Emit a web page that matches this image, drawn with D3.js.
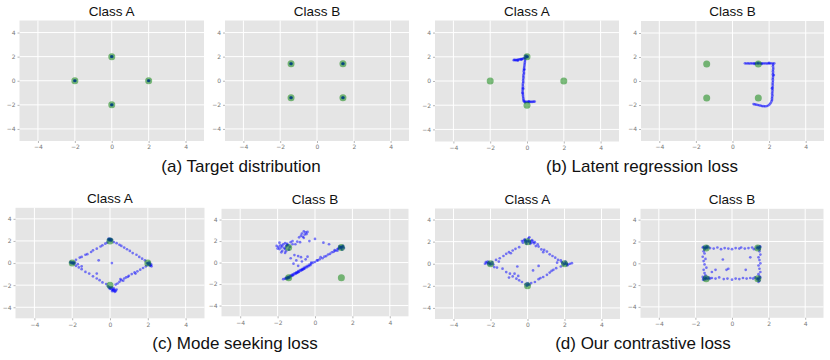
<!DOCTYPE html>
<html>
<head>
<meta charset="utf-8">
<script src="https://cdn.jsdelivr.net/npm/d3@7"></script>
<style>
  body { margin: 0; background: #fff; }
  svg { display: block; font-family: "Liberation Sans", Arial, sans-serif; }
  .tick text { fill: #777; font-size: 6px; }
</style>
</head>
<body>
<svg id="chart" width="830" height="360"></svg>
<script>
// target modes (green)
let modesA = [[0, 2], [2, 0], [0, -2], [-2, 0]];
let modesB = [[1.41, 1.41], [-1.41, 1.41], [-1.41, -1.41], [1.41, -1.41]];
let ticks = [-4, -2, 0, 2, 4];
let titles = ['Class A', 'Class B', 'Class A', 'Class B', 'Class A', 'Class B', 'Class A', 'Class B'];
let captions = ['(a) Target distribution', '(b) Latent regression loss', '(c) Mode seeking loss', '(d) Our contrastive loss'];

// generated samples (blue)
let targetA = [[0, 2], [0.03, 2.02], [-0.03, 1.98], [0.02, 1.97], [-0.02, 2.03],
  [2, 0], [2.03, 0.02], [1.97, -0.02], [2.02, -0.03], [1.98, 0.03],
  [0, -2], [0.03, -1.98], [-0.03, -2.02], [0.02, -2.03], [-0.02, -1.97],
  [-2, 0], [-1.97, 0.02], [-2.03, -0.02], [-2.02, 0.03], [-1.98, -0.03]];
let targetB = [[1.41, 1.41], [1.44, 1.43], [1.38, 1.39], [1.43, 1.38], [1.39, 1.44],
  [-1.41, 1.41], [-1.38, 1.43], [-1.44, 1.39], [-1.39, 1.38], [-1.43, 1.44],
  [-1.41, -1.41], [-1.38, -1.39], [-1.44, -1.43], [-1.43, -1.38], [-1.39, -1.44],
  [1.41, -1.41], [1.44, -1.39], [1.38, -1.43], [1.39, -1.38], [1.43, -1.44]];
let latentA = [[-0.72, 1.72], [-0.68, 1.74], [-0.62, 1.73], [-0.58, 1.72], [-0.52, 1.75], [-0.46, 1.77],
  [-0.4, 1.78], [-0.34, 1.8], [-0.28, 1.82], [-0.22, 1.85], [-0.16, 1.88], [-0.1, 1.92], [-0.05, 1.96],
  [0, 2], [0.03, 2.04], [-0.04, 2.1], [-0.1, 2.06], [0.04, 1.98], [-0.02, 2.0], [-0.5, 1.68], [-0.3, 1.76],
  [-0.1, 1.78], [-0.11, 1.65], [-0.12, 1.52], [-0.13, 1.4], [-0.14, 1.28], [-0.15, 1.15], [-0.16, 1.02],
  [-0.17, 0.9], [-0.18, 0.78], [-0.16, 0.66], [-0.18, 0.55], [-0.2, 0.42], [-0.19, 0.3], [-0.2, 0.18],
  [-0.21, 0.05], [-0.2, -0.08], [-0.22, -0.2], [-0.23, -0.33], [-0.22, -0.46], [-0.24, -0.58],
  [-0.23, -0.7], [-0.24, -0.82], [-0.23, -0.95], [-0.22, -1.08], [-0.22, -1.2], [-0.21, -1.32],
  [-0.2, -1.44], [-0.19, -1.55], [-0.18, -1.65], [-0.14, 0.95], [-0.2, -0.62], [-0.25, -1.0],
  [-0.15, -1.7], [-0.08, -1.71], [0, -1.72], [0.06, -1.73], [0.12, -1.73], [0.18, -1.72],
  [0.24, -1.72], [0.3, -1.72], [0.36, -1.71], [0.42, -1.7], [-0.1, -1.76], [0.1, -1.68]];
let latentB = [[0.68, 1.47], [0.76, 1.46], [0.84, 1.47], [0.92, 1.45], [1.0, 1.47], [1.08, 1.46],
  [1.16, 1.48], [1.24, 1.46], [1.32, 1.47], [1.4, 1.45], [1.48, 1.47], [1.56, 1.46], [1.64, 1.48],
  [1.72, 1.46], [1.8, 1.47], [1.88, 1.45], [1.96, 1.47], [2.04, 1.46], [2.12, 1.48], [2.2, 1.46],
  [2.28, 1.47], [1.2, 1.42], [1.6, 1.42], [2.0, 1.51], [1.4, 1.51],
  [2.22, 1.35], [2.21, 1.22], [2.23, 1.08], [2.22, 0.95], [2.21, 0.82], [2.22, 0.68], [2.2, 0.55],
  [2.22, 0.42], [2.21, 0.28], [2.2, 0.15], [2.21, 0.02], [2.2, -0.12], [2.19, -0.25], [2.2, -0.38],
  [2.19, -0.52], [2.18, -0.65], [2.19, -0.78], [2.18, -0.92], [2.17, -1.05], [2.18, -1.18],
  [2.17, -1.32], [2.16, -1.45], [2.16, -1.58], [2.13, -1.7], [2.08, -1.85], [2.02, -1.96],
  [1.95, -2.04], [1.87, -2.09], [1.78, -2.11], [1.7, -2.1], [1.62, -2.09], [1.54, -2.06],
  [1.46, -2.03], [1.38, -2.0], [1.3, -1.97], [1.22, -1.95], [1.15, -1.92], [2.26, 0.5], [2.16, -0.6]];
let seekA = [[0, 2.1], [0.05, 2.15], [-0.05, 2.05], [0.02, 2.2], [-0.03, 2.12], [0.08, 2.05], [-0.08, 2.18],
  [0.04, 2.0], [-0.04, 2.2], [0.1, 2.12], [-0.1, 2.1],
  [-2.0, 0.03], [-1.95, 0.08], [-2.05, -0.02], [-1.9, -0.05], [-1.85, 0.05],
  [-2.1, 0.05], [-1.97, -0.06], [-2.08, 0.1], [-1.92, 0.0],
  [2.0, -0.05], [2.05, 0.05], [2.1, -0.1], [2.15, -0.2], [2.2, -0.3],
  [1.95, 0.0], [2.1, 0.02], [2.18, -0.12], [2.02, -0.15], [2.12, -0.25],
  [0, -2.2], [0.05, -2.3], [0.1, -2.4], [0.2, -2.5],
  [0.25, -2.6], [0.15, -2.45], [-0.05, -2.25], [0.1, -2.2], [0.3, -2.55], [-0.1, -2.1], [0.35, -2.4],
  [0.2, -2.3], [0.12, -2.55], [0.28, -2.45], [0.0, -2.35], [0.18, -2.38],
  [-1.8, 0.3], [-1.6, 0.5], [-1.5, 0.55], [-1.3, 0.75], [-1.2, 0.8], [-1.0, 1.0], [-0.9, 1.15],
  [-0.7, 1.3], [-0.5, 1.5], [-0.4, 1.6], [-0.25, 1.75], [-0.15, 1.85],
  [0.2, 1.9], [0.35, 1.8], [0.5, 1.65], [0.6, 1.55], [0.75, 1.4], [0.9, 1.25], [1.05, 1.1], [1.2, 0.9],
  [1.4, 0.75], [1.55, 0.55], [1.7, 0.4], [1.85, 0.25],
  [1.9, -0.3], [1.75, -0.45], [1.6, -0.6], [1.45, -0.75], [1.3, -0.85], [1.15, -1.0], [1.0, -1.15],
  [0.85, -1.3], [0.75, -1.4], [0.6, -1.55], [0.5, -1.7], [0.4, -1.85], [0.3, -1.95], [1.35, -0.95],
  [0.95, -1.25], [0.7, -1.6], [0.55, -1.45],
  [-1.8, -0.25], [-1.65, -0.4], [-1.5, -0.55], [-1.3, -0.8], [-1.1, -0.95], [-0.9, -1.2], [-0.7, -1.4],
  [-0.55, -1.55], [-0.4, -1.75], [-0.2, -1.9],
  [-0.6, 0.25], [0.1, 0.0], [-0.7, -0.95], [-1.5, -0.3], [-1.7, -0.1]];
let seekB = [[-1.7, 1.7], [-1.5, 1.75], [-1.85, 1.6], [-1.95, 1.45], [-1.9, 1.25], [-1.75, 1.1],
  [-1.55, 1.05], [-1.4, 1.2], [-1.35, 1.45], [-1.45, 1.65], [-1.6, 1.8], [-2.0, 1.3], [-1.8, 0.95],
  [-1.65, 1.35], [-1.55, 1.5], [-1.75, 1.55], [-1.2, 1.7], [-1.3, 1.9], [-1.6, 0.9], [-2.05, 1.55],
  [-1.9, 1.85], [-1.8, 1.4], [-1.6, 1.25], [-1.5, 1.6],
  [-0.6, 2.9], [-0.5, 2.8], [-0.7, 2.7], [-0.55, 2.6], [-0.75, 2.5], [-0.45, 2.65], [-0.65, 2.4],
  [-0.85, 2.35], [-0.4, 2.85], [-0.6, 2.3],
  [-0.95, 1.95], [-0.3, 2.0], [0, 2.2], [0.45, 1.85], [0.75, 1.7], [-1.2, 2.0], [-1.05, 1.7], [-0.8, 1.9],
  [-1.1, 0.7], [-0.9, 0.6], [-0.75, 0.5], [-1.3, 0.4], [-1.0, 0.2], [-0.7, 0.1], [-0.5, 0.3],
  [-1.15, -0.1], [-0.9, -0.3], [-0.4, 0.55], [0.3, 0.5], [0.15, 0.2], [-0.2, 0.0],
  [-1.7, -1.55], [-1.6, -1.5], [-1.55, -1.45], [-1.5, -1.4], [-1.45, -1.45], [-1.4, -1.35],
  [-1.35, -1.3], [-1.3, -1.2], [-1.25, -1.25], [-1.2, -1.1], [-1.15, -1.15], [-1.1, -1.0],
  [-1.05, -1.05], [-1.0, -0.9], [-0.95, -0.95], [-0.9, -0.8], [-0.85, -0.85], [-0.8, -0.7],
  [-0.75, -0.75], [-0.7, -0.6], [-0.65, -0.65], [-0.6, -0.5], [-0.55, -0.55], [-0.5, -0.4],
  [-0.45, -0.45], [-0.4, -0.3], [-0.35, -0.35], [-0.3, -0.2], [-0.25, -0.25], [-0.2, -0.1],
  [-0.1, 0.0], [0.0, 0.05], [-1.42, -1.43], [-1.5, -1.5], [-1.35, -1.4], [-1.45, -1.35],
  [-1.2, -1.2], [-0.9, -0.9], [-0.6, -0.6], [-1.0, -1.0], [-0.7, -0.7],
  [0.1, 0.2], [0.25, 0.3], [0.4, 0.4], [0.5, 0.55], [0.6, 0.6], [0.7, 0.75], [0.8, 0.8], [0.9, 0.95],
  [1.0, 1.0], [1.05, 1.15], [1.1, 1.1], [1.2, 1.25], [1.25, 1.3], [1.3, 1.35], [1.35, 1.45],
  [1.4, 1.4], [1.45, 1.5], [1.5, 1.45], [1.3, 1.5], [1.4, 1.3], [1.55, 1.35], [1.5, 1.55],
  [1.2, 1.1], [1.45, 1.2], [1.41, 1.41], [1.38, 1.44]];
let contrastA = [[0, 2], [0.1, 2.05], [-0.1, 1.95], [0.2, 1.9], [-0.2, 2.1], [0.3, 2.0], [-0.3, 2.05],
  [0.05, 2.3], [-0.05, 1.8], [0.25, 2.15], [-0.15, 2.2], [0.35, 1.85], [0.15, 1.8], [-0.25, 1.9],
  [0.4, 1.95], [0.1, 2.4], [0.02, 2.08], [-0.08, 2.02], [0.12, 1.95], [-0.12, 2.12], [0.2, 2.05],
  [-2.05, 0.1], [-2.2, 0.05], [-2.3, 0.0], [-1.95, 0.0], [-2.1, -0.05], [-1.9, 0.15], [-2.15, 0.2],
  [-1.85, -0.05], [-2.25, 0.15], [-2.0, -0.1], [-2.02, 0.02], [-2.12, 0.08],
  [2.0, 0.0], [2.1, 0.05], [2.2, -0.05], [2.3, 0.0], [1.9, 0.05], [2.05, 0.2], [1.95, -0.1],
  [2.15, -0.15], [2.4, 0.05], [1.85, 0.15], [2.02, 0.02], [2.12, -0.05],
  [0, -1.95], [0.05, -1.85], [-0.05, -2.0], [0.1, -1.9], [-0.1, -1.85], [0, -1.75],
  [-1.7, 0.35], [-1.5, 0.5], [-1.3, 0.7], [-1.15, 0.9], [-1.0, 1.05], [-0.8, 1.2], [-0.65, 1.35],
  [-0.45, 1.5], [-1.55, 0.2], [-0.9, 0.95],
  [0.45, 1.6], [0.6, 1.55], [0.75, 1.3], [0.9, 1.25], [1.05, 1.1], [1.2, 0.85], [1.35, 0.7],
  [1.5, 0.55], [1.65, 0.35], [1.8, 0.3], [0.55, 1.75], [0.85, 1.05], [1.6, 0.1],
  [1.8, -0.25], [1.55, -0.4], [1.4, -0.55], [1.2, -0.8], [1.05, -1.0], [0.85, -1.2], [0.6, -1.4],
  [0.4, -1.65], [0.2, -1.75], [1.3, -0.65], [0.7, -1.3],
  [-1.8, -0.3], [-1.65, -0.35], [-1.35, -0.45], [-1.15, -0.75], [-0.95, -0.9], [-0.8, -1.15],
  [-0.6, -1.35], [-0.45, -1.5], [-0.3, -1.65], [-0.7, -0.9], [-1.0, -1.25], [-0.5, -1.1],
  [0.6, -0.2], [-0.55, -0.25], [0.3, -0.6]];
let contrastB = [[-1.45, 1.45], [-1.5, 1.4], [-1.4, 1.5], [-1.55, 1.5], [-1.35, 1.4], [-1.5, 1.3],
  [-1.6, 1.45], [-1.3, 1.5], [-1.42, 1.38], [-1.38, 1.55],
  [1.45, 1.45], [1.5, 1.4], [1.4, 1.5], [1.55, 1.5], [1.35, 1.42], [1.5, 1.3], [1.4, 1.35], [1.52, 1.55],
  [-1.45, -1.4], [-1.5, -1.3], [-1.4, -1.45], [-1.55, -1.4], [-1.35, -1.3], [-1.6, -1.25],
  [-1.3, -1.45], [-1.5, -1.5], [-1.2, -1.4], [-1.42, -1.35], [-1.25, -1.32], [-1.58, -1.5],
  [1.45, -1.45], [1.5, -1.4], [1.4, -1.5], [1.5, -1.6], [1.35, -1.4], [1.55, -1.3], [1.45, -1.7],
  [1.42, -1.38],
  [-1.2, 1.4], [-1.0, 1.35], [-0.8, 1.45], [-0.6, 1.3], [-0.4, 1.4], [-0.2, 1.35], [0.0, 1.3],
  [0.2, 1.4], [0.4, 1.35], [0.5, 1.45], [0.7, 1.35], [0.9, 1.4], [1.1, 1.45], [1.2, 1.3],
  [-1.1, -1.35], [-0.9, -1.4], [-0.7, -1.3], [-0.45, -1.45], [-0.25, -1.4], [0.0, -1.5], [0.2, -1.4],
  [0.4, -1.45], [0.6, -1.35], [0.8, -1.4], [1.0, -1.35], [1.15, -1.4], [1.25, -1.3],
  [-1.55, 1.1], [-1.5, 0.9], [-1.6, 0.6], [-1.45, 0.4], [-1.55, 0.2], [-1.5, -0.1], [-1.4, -0.4],
  [-1.55, -0.6], [-1.5, -0.9], [-1.45, -1.1],
  [1.5, 1.1], [1.55, 0.8], [1.45, 0.55], [1.5, 0.3], [1.55, 0.0], [1.45, -0.2], [1.5, -0.5],
  [1.55, -0.8], [1.45, -1.0], [1.5, -1.2],
  [-0.5, 0.35], [-0.3, -0.6], [-0.9, -0.6], [1.0, 0.55], [0.75, -0.6], [-1.1, -0.8], [-0.2, -0.5]];

// panel rectangles in pixels: [left, top, width, height]
let layout = [
  [19.5, 20.5, 184.5, 120.5], [225, 20.5, 184, 120.5], [435, 20.5, 184, 121], [641, 21, 183, 120],
  [15.5, 207.8, 189, 110.5], [221.5, 208.8, 187, 107.5], [435, 208.5, 185, 110.5], [640.5, 208.8, 183, 109]
];
let panels = [
  {samples: targetA, modes: modesA}, {samples: targetB, modes: modesB},
  {samples: latentA, modes: modesA}, {samples: latentB, modes: modesB},
  {samples: seekA, modes: modesA}, {samples: seekB, modes: modesB},
  {samples: contrastA, modes: modesA}, {samples: contrastB, modes: modesB}
];
let captionPos = [[241, 172], [642, 172], [235, 349], [643, 349]];

let svg = d3.select('#chart');
let fmt = d => d < 0 ? '\u2212' + Math.abs(d) : String(d);

panels.forEach((p, i) => {
  let [l, t, w, h] = layout[i];
  let x = d3.scaleLinear().domain([-5, 5]).range([l, l + w]);
  let y = d3.scaleLinear().domain([-5, 5]).range([t + h, t]);
  let g = svg.append('g');

  g.append('rect')
    .attr('x', l).attr('y', t).attr('width', w).attr('height', h)
    .attr('fill', '#e5e5e5');

  // grid
  g.append('g').selectAll('line').data(ticks).join('line')
    .attr('x1', d => x(d)).attr('x2', d => x(d))
    .attr('y1', t).attr('y2', t + h)
    .attr('stroke', '#fff').attr('stroke-width', 1);
  g.append('g').selectAll('line').data(ticks).join('line')
    .attr('x1', l).attr('x2', l + w)
    .attr('y1', d => y(d)).attr('y2', d => y(d))
    .attr('stroke', '#fff').attr('stroke-width', 1);

  // axes
  let ax = g.append('g').attr('transform', `translate(0,${t + h})`)
    .call(d3.axisBottom(x).tickValues(ticks).tickFormat(fmt).tickSize(2).tickPadding(2));
  let ay = g.append('g').attr('transform', `translate(${l},0)`)
    .call(d3.axisLeft(y).tickValues(ticks).tickFormat(fmt).tickSize(2).tickPadding(2));
  [ax, ay].forEach(a => {
    a.select('.domain').remove();
    a.selectAll('text').attr('font-family', '"DejaVu Sans", sans-serif');
    a.selectAll('line').attr('stroke', '#888').attr('stroke-width', 0.6);
  });

  // samples (blue), then targets (green) drawn over them
  g.append('g').selectAll('circle').data(p.samples).join('circle')
    .attr('cx', d => x(d[0])).attr('cy', d => y(d[1]))
    .attr('r', 1.35)
    .attr('fill', '#0000ff').attr('fill-opacity', 0.5);
  g.append('g').selectAll('circle').data(p.modes).join('circle')
    .attr('cx', d => x(d[0])).attr('cy', d => y(d[1]))
    .attr('r', 3.5)
    .attr('fill', 'rgb(0,128,0)').attr('fill-opacity', 0.5);

  svg.append('text')
    .attr('x', l + w / 2).attr('y', t - 5)
    .attr('text-anchor', 'middle')
    .attr('font-size', 13.5).attr('fill', '#111')
    .text(titles[i]);
});

svg.append('g').selectAll('text').data(captions).join('text')
  .attr('x', (d, i) => captionPos[i][0])
  .attr('y', (d, i) => captionPos[i][1])
  .attr('text-anchor', 'middle')
  .attr('font-size', 17).attr('fill', '#111')
  .text(d => d);
</script>
</body>
</html>
